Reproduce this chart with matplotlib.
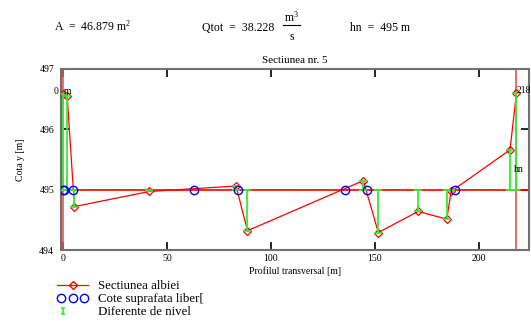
import numpy as np
import matplotlib
matplotlib.use('Agg')
import matplotlib.pyplot as plt
from matplotlib.lines import Line2D
from matplotlib.path import Path
from matplotlib.legend_handler import HandlerLine2D, HandlerBase

plt.rcParams['font.family'] = 'Liberation Serif'
plt.rcParams['mathtext.fontset'] = 'custom'
plt.rcParams['mathtext.rm'] = 'Liberation Serif'
plt.rcParams['mathtext.it'] = 'Liberation Serif:italic'

# cross section (distance [m], elevation [m])
sec_x = [0, 2, 5.5, 41.5, 83.2, 88.7, 144.4, 151.6, 170.8, 184.5, 186.6, 214.9, 218]
sec_y = [496.58, 496.56, 494.72, 494.97, 495.06, 494.32, 495.15, 494.29, 494.64,
         494.51, 494.97, 495.66, 496.6]
# free-surface points
ws_x = [0, 0.6, 4.8, 63, 84, 135.6, 146, 188.5]
hn = 495.0
area = 46.879
qtot = 38.228
bank_x = [0, 218]

red = '#ff0000'
green = '#33ee33'
blue = '#0000ff'

fig = plt.figure(figsize=(5.31, 3.25), dpi=100)
ax = fig.add_axes([61 / 531, 1 - 250 / 325, (529 - 61) / 531, (250 - 69) / 325])

ws_y = np.full(len(ws_x), hn)
lower = np.clip(hn - np.array(sec_y), 0, None)
upper = np.clip(np.array(sec_y) - hn, 0, None)

ax.axhline(hn, color=red, lw=1.2, zorder=2)
for bx in bank_x:
    ax.axvline(bx, color='#f05050', lw=1.2, zorder=2)
ax.plot(sec_x, sec_y, color=red, lw=0.9, marker='D', ms=4, mfc='none',
        mec=red, mew=0.9, zorder=3)
ax.errorbar(sec_x, np.full(len(sec_x), hn), yerr=[lower, upper], fmt='none',
            ecolor=green, elinewidth=1.3, capsize=3, capthick=1.2, zorder=4)
ax.plot(ws_x, ws_y, linestyle='none', marker='o', ms=6, mfc='none', mec=blue,
        mew=1.0, zorder=5)

ax.text(bank_x[0], sec_y[0] + 0.05, '0  m', fontsize=7, ha='center', va='center', zorder=6)
ax.text(bank_x[1], sec_y[-1] + 0.05, '218', fontsize=7, ha='left', va='center', zorder=6)
ax.text(bank_x[1] + 1, hn + 0.33, 'hn', fontsize=7, ha='center', va='center', zorder=6)

ax.set_xlim(-0.96, 224.04)
ax.set_ylim(494, 497)
ax.set_xticks([0, 50, 100, 150, 200])
ax.set_yticks([494, 495, 496, 497])
ax.tick_params(direction='in', length=5.5, width=1.2, color='black', labelsize=7,
               top=True, right=True, pad=3)
ax.tick_params(axis='y', pad=5)
for sp in ax.spines.values():
    sp.set_color('#707070')
    sp.set_linewidth(1.5)
ax.set_title('Sectiunea nr. 5', fontsize=8, pad=4)
ax.set_xlabel('Profilul transversal [m]', fontsize=7, labelpad=2)
ax.set_ylabel('Cota y [m]', fontsize=7, labelpad=10)

# header values
fig.text(54 / 531, 1 - 31 / 325, r'A  =  %.3f m$^{2}$' % area, fontsize=8.5, va='baseline')
fig.text(202 / 531, 1 - 31 / 325, r'Qtot  =  %.3f' % qtot, fontsize=8.5, va='baseline')
# unit m^3/s written as a stacked fraction
fig.text(291.5 / 531, 1 - 21.5 / 325, r'm$^{3}$', fontsize=8.5, ha='center', va='baseline')
fig.text(291.5 / 531, 1 - 40 / 325, 's', fontsize=8.5, ha='center', va='baseline')
fig.add_artist(Line2D([283 / 531, 300 / 531], [1 - 24.5 / 325, 1 - 24.5 / 325],
                      color='black', lw=0.8, transform=fig.transFigure))
fig.text(350 / 531, 1 - 31 / 325, r'hn  =  %g m' % hn, fontsize=8.5, va='baseline')


class HandlerBarLeft(HandlerBase):
    def create_artists(self, legend, orig_handle, xdescent, ydescent, width,
                       height, fontsize, trans):
        mk = Line2D([-xdescent + 4], [height / 2 - ydescent], linestyle='none',
                    marker=orig_handle.get_marker(), ms=orig_handle.get_markersize(),
                    mec=orig_handle.get_markeredgecolor(), mfc='none',
                    mew=orig_handle.get_markeredgewidth())
        mk.set_transform(trans)
        return [mk]


bar_path = Path([(-0.6, 1), (0.6, 1), (0, 1), (0, -1), (-0.6, -1), (0.6, -1)],
                [Path.MOVETO, Path.LINETO, Path.MOVETO, Path.LINETO, Path.MOVETO, Path.LINETO])

h_sec = Line2D([], [], color=red, lw=0.9, marker='D', ms=4, mfc='none', mec=red)
h_ws = Line2D([], [], linestyle='none', marker='o', ms=6, mfc='none', mec=blue, mew=1.0)
h_bar = Line2D([], [], linestyle='none', marker=bar_path, ms=5, mec=green, mew=1.2)

leg = fig.legend([h_sec, h_ws, h_bar],
                 ['Sectiunea albiei', 'Cote suprafata liber[', 'Diferente de nivel'],
                 loc='upper left', bbox_to_anchor=(57 / 531, 1 - 280 / 325),
                 frameon=False, fontsize=9.3, borderpad=0, borderaxespad=0,
                 handlelength=2.4, handletextpad=0.75, labelspacing=0.08,
                 handler_map={h_ws: HandlerLine2D(numpoints=3),
                              h_bar: HandlerBarLeft()})

fig.savefig('out.png', dpi=100)
